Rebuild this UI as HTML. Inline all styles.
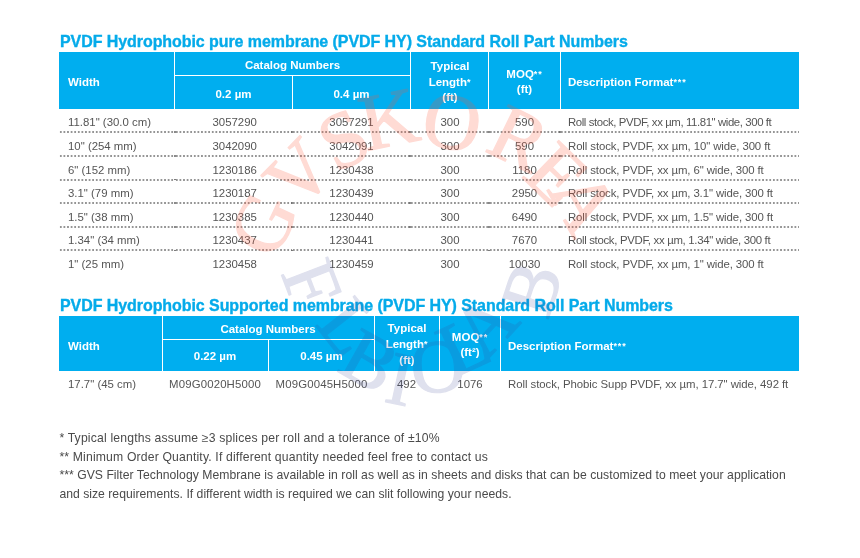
<!DOCTYPE html>
<html><head><meta charset="utf-8">
<style>
html,body{margin:0;padding:0;background:#fff;}
body{width:860px;height:558px;position:relative;overflow:hidden;font-family:"Liberation Sans",sans-serif;}
#wrap{position:absolute;left:0;top:0;width:860px;height:558px;filter:blur(0.45px);}
.t{position:absolute;white-space:nowrap;line-height:1;}
.title{font-weight:bold;font-size:16px;color:#05abea;letter-spacing:-0.07px;left:60px;-webkit-text-stroke:0.35px #05abea;transform:scaleY(1.05);transform-origin:0 12.5px;}
.hdr{position:absolute;background:#00aeef;}
.vl{position:absolute;background:#fff;width:1.4px;}
.hl{position:absolute;background:#fff;height:1.4px;}
.h{position:absolute;color:#fff;font-weight:bold;font-size:11.5px;white-space:nowrap;line-height:1;}
.c{text-align:center;}
.ast{font-size:0.78em;vertical-align:0.12em;letter-spacing:0.9px;}
.d{position:absolute;color:#555;font-size:11.4px;white-space:nowrap;line-height:1;}
.ds{letter-spacing:-0.42px;}
.dot{position:absolute;left:59px;width:740px;height:2px;background-image:radial-gradient(circle at 1.8px 1px,#959595 0.75px,transparent 1.05px);background-size:3.6px 2px;}
.bd{position:absolute;width:1.8px;height:1.8px;border-radius:50%;background:#6a6a6a;}
.fn{position:absolute;left:59.4px;color:#4a4a4a;font-size:12.2px;white-space:nowrap;line-height:1;}
</style></head><body><div id="wrap">
<div class="t title" style="top:33.5px;">PVDF Hydrophobic pure membrane (PVDF HY) Standard Roll Part Numbers</div>
<div class="hdr" style="left:59px;top:52px;width:740px;height:56.5px;"></div>
<div class="vl" style="left:174px;top:52px;height:56.5px;"></div>
<div class="vl" style="left:291.5px;top:75px;height:33.5px;"></div>
<div class="vl" style="left:409.5px;top:52px;height:56.5px;"></div>
<div class="vl" style="left:488px;top:52px;height:56.5px;"></div>
<div class="vl" style="left:559.5px;top:52px;height:56.5px;"></div>
<div class="hl" style="left:174px;top:75px;width:236px;"></div>
<div class="h" style="left:68px;top:76.6px;">Width</div>
<div class="h c" style="left:175px;width:235px;top:60px;">Catalog Numbers</div>
<div class="h c" style="left:175px;width:117px;top:89px;">0.2 µm</div>
<div class="h c" style="left:293px;width:117px;top:89px;">0.4 µm</div>
<div class="h c" style="left:411px;width:78px;top:59px;line-height:15.5px;">Typical<br>Length<span class="ast">*</span><br>(ft)</div>
<div class="h c" style="left:489px;width:71px;top:66.8px;line-height:15.5px;">MOQ<span class="ast">**</span><br>(ft)</div>
<div class="h" style="left:568px;top:76.6px;">Description Format<span class="ast">***</span></div>
<div class="d" style="left:68px;top:117.2px;">11.81" (30.0 cm)</div>
<div class="d c" style="left:176.2px;width:117px;top:117.2px;">3057290</div>
<div class="d c" style="left:293px;width:117px;top:117.2px;">3057291</div>
<div class="d c" style="left:411px;width:78px;top:117.2px;">300</div>
<div class="d c" style="left:489px;width:71px;top:117.2px;">590</div>
<div class="d" style="left:568px;top:117.2px;letter-spacing:-0.406px;">Roll stock, PVDF, xx µm, 11.81" wide, 300 ft</div>
<div class="dot" style="top:131.2px;left:59px;width:115.7px;"></div>
<div class="dot" style="top:131.2px;left:174.7px;width:117.5px;"></div>
<div class="dot" style="top:131.2px;left:292.2px;width:118.0px;"></div>
<div class="dot" style="top:131.2px;left:410.2px;width:78.5px;"></div>
<div class="dot" style="top:131.2px;left:488.7px;width:71.5px;"></div>
<div class="dot" style="top:131.2px;left:560.2px;width:238.8px;"></div>
<div class="bd" style="top:131.3px;left:173.8px;"></div>
<div class="bd" style="top:131.3px;left:291.3px;"></div>
<div class="bd" style="top:131.3px;left:409.3px;"></div>
<div class="bd" style="top:131.3px;left:487.8px;"></div>
<div class="bd" style="top:131.3px;left:559.3px;"></div>
<div class="d" style="left:68px;top:140.85px;">10" (254 mm)</div>
<div class="d c" style="left:176.2px;width:117px;top:140.85px;">3042090</div>
<div class="d c" style="left:293px;width:117px;top:140.85px;">3042091</div>
<div class="d c" style="left:411px;width:78px;top:140.85px;">300</div>
<div class="d c" style="left:489px;width:71px;top:140.85px;">590</div>
<div class="d" style="left:568px;top:140.85px;letter-spacing:-0.095px;">Roll stock, PVDF, xx µm, 10" wide, 300 ft</div>
<div class="dot" style="top:154.85px;left:59px;width:115.7px;"></div>
<div class="dot" style="top:154.85px;left:174.7px;width:117.5px;"></div>
<div class="dot" style="top:154.85px;left:292.2px;width:118.0px;"></div>
<div class="dot" style="top:154.85px;left:410.2px;width:78.5px;"></div>
<div class="dot" style="top:154.85px;left:488.7px;width:71.5px;"></div>
<div class="dot" style="top:154.85px;left:560.2px;width:238.8px;"></div>
<div class="bd" style="top:154.95px;left:173.8px;"></div>
<div class="bd" style="top:154.95px;left:291.3px;"></div>
<div class="bd" style="top:154.95px;left:409.3px;"></div>
<div class="bd" style="top:154.95px;left:487.8px;"></div>
<div class="bd" style="top:154.95px;left:559.3px;"></div>
<div class="d" style="left:68px;top:164.5px;">6" (152 mm)</div>
<div class="d c" style="left:176.2px;width:117px;top:164.5px;">1230186</div>
<div class="d c" style="left:293px;width:117px;top:164.5px;">1230438</div>
<div class="d c" style="left:411px;width:78px;top:164.5px;">300</div>
<div class="d c" style="left:489px;width:71px;top:164.5px;">1180</div>
<div class="d" style="left:568px;top:164.5px;letter-spacing:-0.107px;">Roll stock, PVDF, xx µm, 6" wide, 300 ft</div>
<div class="dot" style="top:178.5px;left:59px;width:115.7px;"></div>
<div class="dot" style="top:178.5px;left:174.7px;width:117.5px;"></div>
<div class="dot" style="top:178.5px;left:292.2px;width:118.0px;"></div>
<div class="dot" style="top:178.5px;left:410.2px;width:78.5px;"></div>
<div class="dot" style="top:178.5px;left:488.7px;width:71.5px;"></div>
<div class="dot" style="top:178.5px;left:560.2px;width:238.8px;"></div>
<div class="bd" style="top:178.6px;left:173.8px;"></div>
<div class="bd" style="top:178.6px;left:291.3px;"></div>
<div class="bd" style="top:178.6px;left:409.3px;"></div>
<div class="bd" style="top:178.6px;left:487.8px;"></div>
<div class="bd" style="top:178.6px;left:559.3px;"></div>
<div class="d" style="left:68px;top:188.15px;">3.1" (79 mm)</div>
<div class="d c" style="left:176.2px;width:117px;top:188.15px;">1230187</div>
<div class="d c" style="left:293px;width:117px;top:188.15px;">1230439</div>
<div class="d c" style="left:411px;width:78px;top:188.15px;">300</div>
<div class="d c" style="left:489px;width:71px;top:188.15px;">2950</div>
<div class="d" style="left:568px;top:188.15px;letter-spacing:-0.108px;">Roll stock, PVDF, xx µm, 3.1" wide, 300 ft</div>
<div class="dot" style="top:202.15px;left:59px;width:115.7px;"></div>
<div class="dot" style="top:202.15px;left:174.7px;width:117.5px;"></div>
<div class="dot" style="top:202.15px;left:292.2px;width:118.0px;"></div>
<div class="dot" style="top:202.15px;left:410.2px;width:78.5px;"></div>
<div class="dot" style="top:202.15px;left:488.7px;width:71.5px;"></div>
<div class="dot" style="top:202.15px;left:560.2px;width:238.8px;"></div>
<div class="bd" style="top:202.25px;left:173.8px;"></div>
<div class="bd" style="top:202.25px;left:291.3px;"></div>
<div class="bd" style="top:202.25px;left:409.3px;"></div>
<div class="bd" style="top:202.25px;left:487.8px;"></div>
<div class="bd" style="top:202.25px;left:559.3px;"></div>
<div class="d" style="left:68px;top:211.8px;">1.5" (38 mm)</div>
<div class="d c" style="left:176.2px;width:117px;top:211.8px;">1230385</div>
<div class="d c" style="left:293px;width:117px;top:211.8px;">1230440</div>
<div class="d c" style="left:411px;width:78px;top:211.8px;">300</div>
<div class="d c" style="left:489px;width:71px;top:211.8px;">6490</div>
<div class="d" style="left:568px;top:211.8px;letter-spacing:-0.105px;">Roll stock, PVDF, xx µm, 1.5" wide, 300 ft</div>
<div class="dot" style="top:225.8px;left:59px;width:115.7px;"></div>
<div class="dot" style="top:225.8px;left:174.7px;width:117.5px;"></div>
<div class="dot" style="top:225.8px;left:292.2px;width:118.0px;"></div>
<div class="dot" style="top:225.8px;left:410.2px;width:78.5px;"></div>
<div class="dot" style="top:225.8px;left:488.7px;width:71.5px;"></div>
<div class="dot" style="top:225.8px;left:560.2px;width:238.8px;"></div>
<div class="bd" style="top:225.9px;left:173.8px;"></div>
<div class="bd" style="top:225.9px;left:291.3px;"></div>
<div class="bd" style="top:225.9px;left:409.3px;"></div>
<div class="bd" style="top:225.9px;left:487.8px;"></div>
<div class="bd" style="top:225.9px;left:559.3px;"></div>
<div class="d" style="left:68px;top:235.45px;">1.34" (34 mm)</div>
<div class="d c" style="left:176.2px;width:117px;top:235.45px;">1230437</div>
<div class="d c" style="left:293px;width:117px;top:235.45px;">1230441</div>
<div class="d c" style="left:411px;width:78px;top:235.45px;">300</div>
<div class="d c" style="left:489px;width:71px;top:235.45px;">7670</div>
<div class="d" style="left:568px;top:235.45px;letter-spacing:-0.313px;">Roll stock, PVDF, xx µm, 1.34" wide, 300 ft</div>
<div class="dot" style="top:249.45px;left:59px;width:115.7px;"></div>
<div class="dot" style="top:249.45px;left:174.7px;width:117.5px;"></div>
<div class="dot" style="top:249.45px;left:292.2px;width:118.0px;"></div>
<div class="dot" style="top:249.45px;left:410.2px;width:78.5px;"></div>
<div class="dot" style="top:249.45px;left:488.7px;width:71.5px;"></div>
<div class="dot" style="top:249.45px;left:560.2px;width:238.8px;"></div>
<div class="bd" style="top:249.55px;left:173.8px;"></div>
<div class="bd" style="top:249.55px;left:291.3px;"></div>
<div class="bd" style="top:249.55px;left:409.3px;"></div>
<div class="bd" style="top:249.55px;left:487.8px;"></div>
<div class="bd" style="top:249.55px;left:559.3px;"></div>
<div class="d" style="left:68px;top:259.1px;">1" (25 mm)</div>
<div class="d c" style="left:176.2px;width:117px;top:259.1px;">1230458</div>
<div class="d c" style="left:293px;width:117px;top:259.1px;">1230459</div>
<div class="d c" style="left:411px;width:78px;top:259.1px;">300</div>
<div class="d c" style="left:489px;width:71px;top:259.1px;">10030</div>
<div class="d" style="left:568px;top:259.1px;letter-spacing:-0.107px;">Roll stock, PVDF, xx µm, 1" wide, 300 ft</div>
<div class="t title" style="top:297.5px;">PVDF Hydrophobic Supported membrane (PVDF HY) Standard Roll Part Numbers</div>
<div class="hdr" style="left:59px;top:316.4px;width:740px;height:54.3px;"></div>
<div class="vl" style="left:161.5px;top:316.4px;height:54.3px;"></div>
<div class="vl" style="left:267.5px;top:339.5px;height:31.2px;"></div>
<div class="vl" style="left:374px;top:316.4px;height:54.3px;"></div>
<div class="vl" style="left:439px;top:316.4px;height:54.3px;"></div>
<div class="vl" style="left:499.5px;top:316.4px;height:54.3px;"></div>
<div class="hl" style="left:161.5px;top:338.8px;width:213px;"></div>
<div class="h" style="left:68px;top:340.6px;">Width</div>
<div class="h c" style="left:162px;width:212px;top:323.9px;">Catalog Numbers</div>
<div class="h c" style="left:162px;width:106px;top:351px;">0.22 µm</div>
<div class="h c" style="left:269px;width:105px;top:351px;">0.45 µm</div>
<div class="h c" style="left:375px;width:64px;top:321.3px;line-height:15.8px;">Typical<br>Length<span class="ast">*</span><br>(ft)</div>
<div class="h c" style="left:440.5px;width:59px;top:329.5px;line-height:15.5px;">MOQ<span class="ast">**</span><br>(ft²)</div>
<div class="h" style="left:508px;top:340.6px;">Description Format<span class="ast">***</span></div>
<div class="d" style="left:68px;top:379.3px;">17.7" (45 cm)</div>
<div class="d c" style="left:162px;width:106px;top:379.3px;letter-spacing:0.15px;">M09G0020H5000</div>
<div class="d c" style="left:269px;width:105px;top:379.3px;letter-spacing:0.15px;">M09G0045H5000</div>
<div class="d c" style="left:375px;width:63px;top:379.3px;">492</div>
<div class="d c" style="left:440.5px;width:59px;top:379.3px;">1076</div>
<div class="d" style="left:508px;top:379.3px;letter-spacing:-0.059px;">Roll stock, Phobic Supp PVDF, xx µm, 17.7" wide, 492 ft</div>
<div class="fn" style="top:432.0px;letter-spacing:0.18px;">* Typical lengths assume ≥3 splices per roll and a tolerance of ±10%</div>
<div class="fn" style="top:450.65px;letter-spacing:0.166px;">** Minimum Order Quantity. If different quantity needed feel free to contact us</div>
<div class="fn" style="top:469.3px;letter-spacing:0.033px;">*** GVS Filter Technology Membrane is available in roll as well as in sheets and disks that can be customized to meet your application</div>
<div class="fn" style="top:487.95px;letter-spacing:0.014px;">and size requirements. If different width is required we can slit following your needs.</div>
<svg width="860" height="558" viewBox="0 0 860 558" style="position:absolute;left:0;top:0;">
<g font-family="Liberation Serif" font-size="80" fill="rgb(255,85,55)" stroke="rgb(255,85,55)" stroke-width="1.2" stroke-linejoin="round" opacity="0.21" text-anchor="middle">
<text transform="translate(263.3,224.1) rotate(-64.7)" y="26.5">G</text>
<text transform="translate(298.9,173.5) rotate(-45.7)" y="26.5">V</text>
<text transform="translate(343.6,139.6) rotate(-26.7)" y="26.5">S</text>
<text transform="translate(389.0,119.2) rotate(-11.6)" y="26.5">K</text>
<text transform="translate(452.2,122.2) rotate(9.8)" y="26.5">O</text>
<text transform="translate(519.0,138.4) rotate(26.2)" y="26.5">R</text>
<text transform="translate(556.5,174.4) rotate(44.3)" y="26.5">E</text>
<text transform="translate(583.6,202.2) rotate(61.0)" y="26.5">A</text>
</g>
<g font-family="Liberation Serif" font-size="76" fill="rgb(60,70,150)" stroke="rgb(60,70,150)" stroke-width="1.2" stroke-linejoin="round" opacity="0.16" text-anchor="middle">
<text transform="translate(311.5,283.5) rotate(69.0)" y="25.2">F</text>
<text transform="translate(348.3,327.2) rotate(51.9)" y="25.2">L</text>
<text transform="translate(370.0,361.0) rotate(29.3)" y="25.2">B</text>
<text transform="translate(400.4,379.3) rotate(12.2)" y="25.2">I</text>
<text transform="translate(437.9,366.7) rotate(-5.6)" y="25.2">O</text>
<text transform="translate(463.6,345.8) rotate(-24.9)" y="25.2">L</text>
<text transform="translate(485.0,325.4) rotate(-47.2)" y="25.2">A</text>
<text transform="translate(531.6,289.1) rotate(-71.8)" y="25.2">B</text>
</g></svg>
</div></body></html>
